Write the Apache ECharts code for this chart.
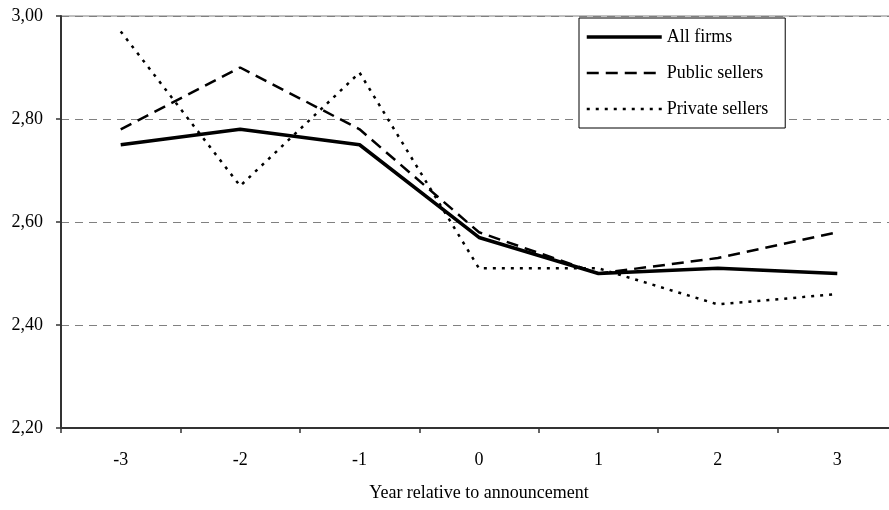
<!DOCTYPE html>
<html>
<head>
<meta charset="utf-8">
<script src="https://cdn.jsdelivr.net/npm/echarts@6/dist/echarts.min.js"></script>
<style>
  html, body { margin: 0; padding: 0; background: #fff; }
  #main { width: 889px; height: 510px; }
</style>
</head>
<body>
<div id="main"></div>
<script>
// years relative to announcement
const years = ['-3', '-2', '-1', '0', '1', '2', '3'];

const allFirms = [2.75, 2.78, 2.75, 2.57, 2.50, 2.51, 2.50];
const publicSellers = [2.78, 2.90, 2.78, 2.58, 2.50, 2.53, 2.58];
const privateSellers = [2.97, 2.67, 2.89, 2.51, 2.51, 2.44, 2.46];

const font = '"Liberation Serif", "Times New Roman", serif';

const chart = echarts.init(document.getElementById('main'));

const option = {
  animation: false,
  backgroundColor: '#fff',
  textStyle: { fontFamily: font },
  grid: {
    left: 61,
    top: 16,
    width: 836,
    bottom: 82,
    containLabel: false,
    outerBoundsMode: 'none',
    show: true,
    borderColor: '#808080',
    borderWidth: 1
  },
  legend: {
    orient: 'vertical',
    left: 579,
    top: 18,
    padding: [10, 17, 10, 6],
    itemWidth: 75,
    itemHeight: 14,
    itemGap: 18,
    borderColor: '#000',
    borderWidth: 1,
    backgroundColor: '#fff',
    itemStyle: { opacity: 0 },
    lineStyle: { width: 'inherit' },
    textStyle: { fontFamily: font, fontSize: 18, color: '#000' },
    data: ['All firms', 'Public sellers', 'Private sellers']
  },
  xAxis: {
    type: 'category',
    data: years,
    boundaryGap: true,
    name: 'Year relative to announcement',
    nameLocation: 'middle',
    nameGap: 56,
    nameTextStyle: { fontFamily: font, fontSize: 18, color: '#000' },
    axisLine: { lineStyle: { color: '#333', width: 2 } },
    axisTick: { show: true, length: 5, lineStyle: { color: '#333', width: 1.5 } },
    axisLabel: { margin: 23, fontFamily: font, fontSize: 18, color: '#000' },
    splitLine: { show: false }
  },
  yAxis: {
    type: 'value',
    min: 2.2,
    max: 3.0,
    interval: 0.2,
    axisLine: { show: true, lineStyle: { color: '#333', width: 2 } },
    axisTick: { show: true, length: 5, lineStyle: { color: '#333', width: 1.5 } },
    axisLabel: {
      margin: 18,
      fontFamily: font,
      fontSize: 18,
      color: '#000',
      formatter: v => v.toFixed(2).replace('.', ',')
    },
    splitLine: { show: true, lineStyle: { color: '#808080', width: 1, type: [8, 6] } }
  },
  series: [
    {
      name: 'All firms',
      type: 'line',
      data: allFirms,
      symbol: 'none',
      lineStyle: { color: '#000', width: 3.5, type: 'solid' },
      itemStyle: { color: '#000' },
      z: 4
    },
    {
      name: 'Public sellers',
      type: 'line',
      data: publicSellers,
      symbol: 'none',
      lineStyle: { color: '#000', width: 2.5, type: [12, 7] },
      itemStyle: { color: '#000' },
      z: 3
    },
    {
      name: 'Private sellers',
      type: 'line',
      data: privateSellers,
      symbol: 'none',
      lineStyle: { color: '#000', width: 2.5, type: [3, 6] },
      itemStyle: { color: '#000' },
      z: 2
    }
  ]
};

chart.setOption(option);
</script>
</body>
</html>
